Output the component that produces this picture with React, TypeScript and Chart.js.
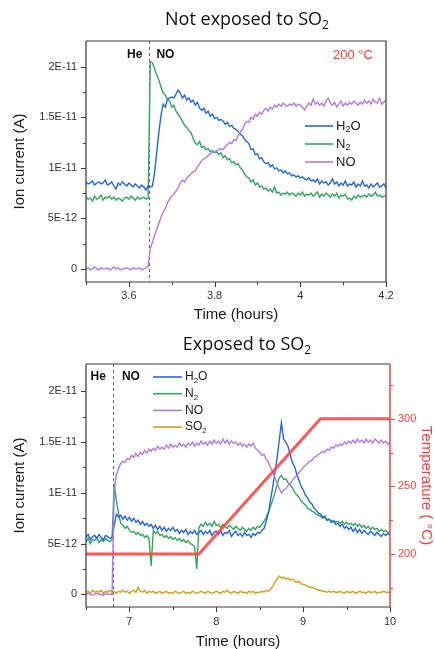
import React, { useEffect, useRef } from "react";
import { Chart, registerables } from "chart.js";

Chart.register(...registerables);

// ---------------- Data: top panel (not exposed to SO2) ----------------
const TOP_T0 = 3.5; // hours
const TOP_STEP = 0.005; // hours between samples
const TOP_SWITCH = 3.648; // He -> NO switch
// ion currents in units of 1E-12 A
const TOP_H2O = [
  8.6, 8.4, 8.5, 8.7, 8.3, 8.5, 8.6, 8.4, 8.5, 8.8,
  8.3, 8.4, 8.6, 8.2, 7.9, 8.5, 8.3, 8.6, 8.4, 8.2,
  8.5, 8.3, 8.1, 8.4, 8.2, 8.0, 8.3, 8.1, 7.8, 8.2,
  8.1, 8.2, 9.5, 11.5, 13.5, 15.2, 16.3, 16.0, 16.8, 16.9,
  17.0, 16.9, 17.3, 17.7, 17.4, 16.9, 17.2, 16.7, 16.9, 16.5,
  16.7, 16.2, 16.5, 15.9, 15.7, 15.9, 15.4, 15.6, 15.1, 15.3,
  14.9, 15.0, 14.7, 14.8, 14.6, 14.3, 14.5, 14.1, 14.2, 13.9,
  13.8, 13.6, 13.3, 13.2, 12.8, 12.6, 12.4, 11.8, 11.9, 11.3,
  11.4, 10.9, 11.0, 10.6, 10.4, 10.5, 10.1, 10.3, 9.9, 10.0,
  9.7, 9.8, 9.5, 9.7, 9.4, 9.5, 9.2, 9.3, 9.1, 9.2,
  9.0, 9.1, 8.9, 8.8, 9.0, 8.7, 8.8, 8.6, 8.9, 8.4,
  8.7, 8.5, 8.6, 8.3, 8.5, 8.9, 8.4, 8.6, 8.2, 8.5,
  8.3, 8.7, 8.2, 8.4, 8.3, 8.6, 8.1, 8.4, 8.2, 8.7,
  8.2, 8.3, 8.0, 8.4, 8.1, 8.3, 8.5, 8.1, 8.2, 8.4,
  8.0,
];
const TOP_N2 = [
  7.1, 6.9, 7.0, 6.7, 7.2, 6.9, 7.0, 7.3, 6.8, 7.1,
  7.0, 7.2, 6.9, 7.1, 6.8, 7.0, 6.9, 6.7, 7.0, 7.1,
  6.9, 7.2, 7.0, 6.8, 7.1, 6.9, 7.0, 7.1, 6.9, 7.0,
  20.5, 20.4, 19.8, 19.2, 18.7, 18.0, 17.4, 17.2, 16.8, 16.6,
  16.0, 16.2, 15.6, 15.3, 15.0, 14.6, 14.2, 14.0, 13.7, 13.5,
  12.9, 12.4, 12.3, 12.6, 12.0, 12.1, 11.8, 11.9, 11.6, 11.7,
  11.5, 11.6, 11.3, 11.5, 11.0, 11.2, 10.8, 10.9, 10.5, 10.6,
  10.3, 10.4, 10.0, 9.8, 9.4, 9.1, 9.0, 8.6, 8.8, 8.3,
  8.5, 8.1, 8.2, 7.9, 8.0, 7.7, 7.9, 7.6, 8.1, 7.5,
  7.6, 7.3, 7.5, 7.4, 7.6, 7.3, 7.5, 7.4, 7.2, 7.5,
  7.3, 7.6, 7.2, 7.4, 7.3, 7.5, 7.2, 7.4, 7.6, 7.1,
  7.4, 7.2, 7.5, 7.3, 7.1, 7.4, 7.2, 7.5, 7.0, 7.3,
  7.2, 7.4, 6.9, 7.0, 6.8, 7.2, 7.0, 7.3, 7.1, 7.2,
  7.3, 7.1, 7.4, 7.2, 7.3, 7.6, 7.2, 7.3, 7.1, 7.2,
  7.2,
];
const TOP_NO = [
  0.0, 0.1, -0.1, 0.0, 0.2, 0.0, -0.1, 0.1, 0.0, 0.0,
  0.1, -0.1, 0.0, 0.2, 0.0, 0.1, -0.1, 0.0, 0.0, 0.1,
  0.0, -0.1, 0.1, 0.0, 0.0, 0.1, -0.1, 0.0, 0.1, 0.3,
  2.0, 2.6, 3.3, 3.9, 4.5, 5.1, 5.6, 6.0, 6.5, 6.9,
  7.2, 7.4, 7.7, 8.0, 8.5, 8.8, 8.6, 9.0, 9.2, 9.4,
  9.6, 9.7, 10.1, 10.4, 10.7, 10.9, 11.0, 11.2, 11.4, 11.5,
  11.6, 11.7, 11.8, 11.9, 11.8, 12.1, 12.3, 12.5, 12.4, 12.8,
  12.7, 13.2, 13.5, 13.8, 14.3, 14.6, 14.5, 15.0, 14.8, 15.3,
  15.1, 15.5, 15.3, 15.7, 15.9, 15.6, 16.0, 15.8, 16.2, 16.0,
  16.3, 16.1, 16.4, 16.2, 16.1, 16.3, 16.2, 16.4, 16.1, 16.3,
  16.2, 16.0, 15.7, 16.1, 16.4, 16.2, 16.8, 16.3, 16.5, 16.2,
  16.4, 16.1, 16.6, 16.9, 16.4, 16.2, 16.5, 16.0, 16.3, 16.6,
  16.1, 16.4, 16.2, 16.5, 16.3, 16.6, 16.4, 16.2, 16.5, 16.3,
  16.7, 16.4, 16.6, 16.3, 16.8, 16.5, 16.4, 16.9, 16.3, 16.5,
  16.7,
];
const TOP_X_MAJOR = [3.6, 3.8, 4, 4.2];
const TOP_X_MINOR = [3.5, 3.7, 3.9, 4.1];

// ---------------- Data: bottom panel (exposed to SO2) ----------------
const BOT_T0 = 6.5;
const BOT_STEP = 0.025;
const BOT_SWITCH = 6.81;
const BOT_H2O = [
  5.6, 5.9, 5.4, 5.7, 5.8, 5.5, 5.9, 5.6, 5.4, 5.8,
  5.7, 5.5, 5.6, 6.8, 7.9, 7.6, 7.8, 7.4, 7.7, 7.3,
  7.6, 7.2, 7.5, 7.1, 7.3, 6.9, 7.2, 6.8, 7.0, 6.7,
  6.9, 6.5, 6.8, 6.4, 6.7, 6.3, 6.6, 6.2, 6.5, 6.3,
  6.6, 6.2, 6.4, 6.0, 6.3, 6.1, 6.4, 5.9, 6.2, 6.0,
  6.3, 5.9, 6.1, 6.3, 5.9, 6.2, 6.0, 6.3, 5.8, 6.1,
  6.2, 5.9, 6.3, 5.8, 6.1, 6.0, 6.3, 5.7, 6.0, 6.2,
  5.8, 6.0, 5.7, 6.1, 5.8, 5.9, 5.6, 6.0, 5.8, 6.1,
  6.0, 6.3, 6.5, 7.2, 8.0, 9.3, 10.6, 12.0, 13.4, 15.2,
  16.9, 15.3, 15.0, 14.6, 13.8, 13.0, 12.6, 11.9, 11.3, 10.7,
  10.3, 9.8, 9.5, 9.1, 8.9, 8.5, 8.3, 8.0, 7.9, 7.6,
  7.7, 7.3, 7.4, 7.1, 7.2, 6.9, 7.0, 6.7, 6.9, 6.5,
  6.7, 6.4, 6.6, 6.2, 6.5, 6.1, 6.4, 6.0, 6.3, 6.1,
  5.9, 6.2, 6.0, 5.8, 6.1, 5.9, 5.7, 6.0, 5.8, 6.0,
  5.8,
];
const BOT_N2 = [
  5.2, 5.5, 5.0, 5.4, 5.3, 5.6, 5.1, 5.4, 5.2, 5.5,
  5.3, 5.2, 5.4, 10.9, 9.2, 8.0, 7.0, 6.8, 6.5, 6.7,
  6.3, 6.1, 6.2, 5.9, 6.1, 5.8, 5.9, 5.6, 5.8, 5.5,
  2.8, 6.3, 6.0, 6.2, 5.8, 5.9, 5.6, 5.8, 5.5, 5.7,
  5.4, 5.6, 5.3, 5.5, 5.2, 5.4, 5.1, 5.3, 5.0, 4.9,
  4.7, 2.5, 6.6, 6.9, 6.7, 7.1, 6.8, 7.0, 6.7, 7.2,
  6.8, 6.9, 6.6, 6.9, 6.7, 6.5, 6.8, 6.6, 6.4, 6.7,
  6.5, 6.3, 6.6, 6.4, 6.2, 6.5, 6.3, 6.6, 6.4, 6.7,
  6.6, 6.9, 7.2, 7.6, 8.1, 8.7, 9.3, 10.0, 10.8, 11.5,
  11.7, 11.3, 11.4, 11.0, 10.8, 10.5, 10.1, 9.8, 9.6, 9.2,
  9.0, 8.8, 8.5, 8.4, 8.2, 8.1, 7.9, 7.8, 7.7, 7.5,
  7.6, 7.3, 7.4, 7.2, 7.3, 7.1, 7.2, 7.0, 7.2, 6.9,
  7.1, 6.9, 7.0, 6.8, 7.0, 6.7, 6.9, 6.6, 6.8, 6.5,
  6.7, 6.4, 6.6, 6.4, 6.5, 6.2, 6.4, 6.2, 6.3, 6.1,
  6.2,
];
const BOT_NO = [
  0.0, 0.1, 0.0, -0.1, 0.0, 0.1, 0.0, 0.0, -0.1, 0.1,
  0.0, 0.0, 0.0, 10.3, 11.8, 12.4, 12.9, 13.1, 13.0, 13.4,
  13.3, 13.7, 13.5, 13.9, 13.6, 14.0, 13.8, 14.2, 13.9, 14.3,
  14.1, 14.4, 14.2, 14.6, 14.3, 14.5, 14.3, 14.7, 14.4, 14.8,
  14.5, 14.7, 14.5, 14.9, 14.6, 14.8, 14.5, 14.9, 14.7, 15.0,
  14.6, 14.9, 14.7, 15.1, 14.8, 15.0, 14.7, 15.1, 14.8, 15.2,
  14.9, 15.1, 14.8, 15.3, 14.9, 15.2, 14.8, 15.1, 14.9, 15.0,
  14.7, 14.9, 14.6, 14.8, 14.5, 14.8, 14.6, 14.9, 14.4, 14.2,
  14.0, 13.7, 13.8, 13.3, 13.0, 12.5, 12.1, 11.5, 11.0, 10.4,
  10.0, 10.3, 10.4, 10.7, 10.9, 11.2, 11.5, 11.7, 12.0, 12.2,
  12.5, 12.7, 12.9, 13.1, 13.2, 13.5, 13.6, 13.8, 13.9, 14.1,
  14.0, 14.3, 14.2, 14.5, 14.4, 14.7, 14.6, 14.8, 14.7, 15.0,
  14.8, 15.1, 14.9, 15.2, 14.9, 15.3, 15.0, 15.2, 14.9, 15.3,
  15.0, 15.2, 14.9, 15.3, 15.1, 14.9, 15.2, 14.9, 15.1, 14.8,
  15.0,
];
const BOT_SO2 = [
  0.2, 0.3, 0.1, 0.4, 0.2, 0.3, 0.2, 0.4, 0.1, 0.3,
  0.2, 0.4, 0.2, 0.3, 0.1, 0.3, 0.2, 0.4, 0.2, 0.3,
  0.1, 0.3, 0.4, 0.2, 0.7, 0.3, 0.2, 0.4, 0.1, 0.3,
  0.2, 0.3, 0.1, 0.2, 0.3, 0.1, 0.2, 0.3, 0.1, 0.2,
  0.1, 0.3, 0.2, 0.1, 0.2, 0.3, 0.1, 0.2, 0.1, 0.3,
  0.2, 0.1, 0.2, 0.3, 0.2, 0.1, 0.3, 0.2, 0.1, 0.2,
  0.3, 0.2, 0.1, 0.3, 0.2, 0.4, 0.2, 0.1, 0.3, 0.2,
  0.1, 0.3, 0.2, 0.2, 0.1, 0.3, 0.2, 0.3, 0.1, 0.2,
  0.2, 0.3, 0.2, 0.4, 0.3, 0.5, 0.8, 1.2, 1.5, 1.8,
  1.6, 1.7, 1.5, 1.6, 1.4, 1.5, 1.3, 1.2, 1.3, 1.0,
  1.0, 0.9, 0.8, 0.7, 0.7, 0.6, 0.5, 0.4, 0.4, 0.3,
  0.3, 0.2, 0.3, 0.2, 0.3, 0.2, 0.2, 0.3, 0.2, 0.1,
  0.3, 0.2, 0.2, 0.3, 0.1, 0.2, 0.3, 0.2, 0.2, 0.1,
  0.3, 0.2, 0.2, 0.3, 0.1, 0.2, 0.2, 0.3, 0.2, 0.2,
  0.2,
];
const TEMP_TIME = [6.5, 7.8, 9.2, 10];
const TEMP_VALUES = [200, 200, 300, 300];
const BOT_X_MAJOR = [7, 8, 9, 10];
const BOT_X_MINOR = [6.5, 7.5, 8.5, 9.5];
const TEMP_MAJOR = [200, 250, 300];
const TEMP_MINOR = [175, 225, 275, 325];

// ---------------- Shared y ticks ----------------
const Y_MAJOR = [0, 5, 10, 15, 20];
const Y_LABELS = ["0", "5E-12", "1E-11", "1.5E-11", "2E-11"];
const Y_MINOR = [2.5, 7.5, 12.5, 17.5];

// ---------------- Styles ----------------
const FONT = '"Liberation Sans", Arial, sans-serif';
const TITLE_FONT = '"Open Sans", "Noto Sans", sans-serif';
const C_H2O = "#2566e0";
const C_N2 = "#2fa85e";
const C_NO = "#b27ae8";
const C_SO2 = "#d4a012";
const C_TEMP = "rgba(255,70,70,0.9)";
const C_RED = "#ff3b3b";
const C_AXIS = "#3a3a3a";

function toPoints(t0: number, step: number, vals: number[]) {
  return vals.map((v, i) => ({ x: +(t0 + i * step).toFixed(4), y: v }));
}

function drawRich(
  ctx: CanvasRenderingContext2D,
  text: string,
  x: number,
  y: number,
  size: number,
  weight: string,
  family: string,
  color: string,
  align: "left" | "center" | "right"
) {
  const parts = text.split("_");
  const segs: { t: string; sub: boolean; w: number }[] = [];
  parts.forEach((p, i) => {
    if (i === 0) {
      if (p) segs.push({ t: p, sub: false, w: 0 });
    } else {
      segs.push({ t: p[0], sub: true, w: 0 });
      if (p.length > 1) segs.push({ t: p.slice(1), sub: false, w: 0 });
    }
  });
  const subSize = Math.round(size * 0.68);
  const fontOf = (s: { sub: boolean }) => `${weight} ${s.sub ? subSize : size}px ${family}`;
  let total = 0;
  for (const s of segs) {
    ctx.font = fontOf(s);
    s.w = ctx.measureText(s.t).width;
    total += s.w;
  }
  let cx = align === "center" ? x - total / 2 : align === "right" ? x - total : x;
  ctx.fillStyle = color;
  ctx.textAlign = "left";
  ctx.textBaseline = "middle";
  for (const s of segs) {
    ctx.font = fontOf(s);
    ctx.fillText(s.t, cx, s.sub ? y + size * 0.3 : y);
    cx += s.w;
  }
}

type Decor = {
  title: string;
  titleX: number;
  titleY: number;
  switchT: number;
  gasY: number;
  heGap: number;
  noGap: number;
  legend: { label: string; color: string }[];
  legendX: number;
  legendY: number;
  legendGap: number;
  legendLine: number;
  legendSize: number;
  note?: { text: string; dxRight: number; dy: number };
  xMajor: number[];
  xMinor: number[];
  y2?: boolean;
};

function decorPlugin(d: Decor) {
  return {
    id: "decor",
    beforeDatasetsDraw(chart: any) {
      const { ctx, chartArea, scales } = chart;
      const xs = Math.round(scales.x.getPixelForValue(d.switchT)) + 0.5;
      ctx.save();
      ctx.strokeStyle = "#666";
      ctx.lineWidth = 1;
      ctx.setLineDash([3, 3]);
      ctx.beginPath();
      ctx.moveTo(xs, chartArea.top);
      ctx.lineTo(xs, chartArea.bottom);
      ctx.stroke();
      ctx.restore();
    },
    afterDraw(chart: any) {
      const { ctx, chartArea, scales } = chart;
      const { left, right, top, bottom } = chartArea;
      ctx.save();
      // frame
      ctx.lineWidth = 1.2;
      ctx.strokeStyle = C_AXIS;
      ctx.beginPath();
      ctx.moveTo(left, top);
      ctx.lineTo(left, bottom);
      ctx.lineTo(right, bottom);
      ctx.moveTo(left, top);
      ctx.lineTo(right, top);
      if (!d.y2) ctx.lineTo(right, bottom);
      ctx.stroke();
      // ticks
      const tick = (x1: number, y1: number, x2: number, y2: number) => {
        ctx.beginPath();
        ctx.moveTo(x1, y1);
        ctx.lineTo(x2, y2);
        ctx.stroke();
      };
      ctx.lineWidth = 1;
      d.xMajor.forEach((v) => {
        const p = Math.round(scales.x.getPixelForValue(v)) + 0.5;
        tick(p, bottom, p, bottom + 5);
      });
      d.xMinor.forEach((v) => {
        const p = Math.round(scales.x.getPixelForValue(v)) + 0.5;
        tick(p, bottom, p, bottom + 3);
      });
      Y_MAJOR.forEach((v) => {
        const p = Math.round(scales.y.getPixelForValue(v)) + 0.5;
        tick(left, p, left - 5, p);
      });
      Y_MINOR.forEach((v) => {
        const p = Math.round(scales.y.getPixelForValue(v)) + 0.5;
        tick(left, p, left - 3, p);
      });
      if (d.y2) {
        ctx.strokeStyle = C_RED;
        ctx.lineWidth = 1.5;
        tick(right, top, right, bottom);
        ctx.lineWidth = 1;
        TEMP_MAJOR.forEach((v) => {
          const p = Math.round(scales.y2.getPixelForValue(v)) + 0.5;
          tick(right, p, right + 5, p);
        });
        TEMP_MINOR.forEach((v) => {
          const p = Math.round(scales.y2.getPixelForValue(v)) + 0.5;
          tick(right, p, right + 3, p);
        });
      }
      // He / NO labels around the switch line
      const xs = scales.x.getPixelForValue(d.switchT);
      drawRich(ctx, "He", xs - d.heGap, top + d.gasY, 12, "bold", FONT, "#111", "right");
      drawRich(ctx, "NO", xs + d.noGap, top + d.gasY, 12, "bold", FONT, "#111", "left");
      // legend
      d.legend.forEach((item, i) => {
        const y = top + d.legendY + i * d.legendGap;
        ctx.strokeStyle = item.color;
        ctx.lineWidth = 1.6;
        ctx.beginPath();
        ctx.moveTo(left + d.legendX, y);
        ctx.lineTo(left + d.legendX + d.legendLine, y);
        ctx.stroke();
        drawRich(ctx, item.label, left + d.legendX + d.legendLine + 3, y, d.legendSize, "normal", FONT, "#1a1a1a", "left");
      });
      if (d.note) {
        drawRich(ctx, d.note.text, right - d.note.dxRight, top + d.note.dy, 13, "normal", FONT, C_RED, "center");
      }
      drawRich(ctx, d.title, d.titleX, d.titleY, 18, "normal", TITLE_FONT, "#111", "center");
      ctx.restore();
    },
  };
}

function lineDs(label: string, data: { x: number; y: number }[], color: string, width: number, axis = "y") {
  return {
    label,
    data,
    borderColor: color,
    backgroundColor: color,
    borderWidth: width,
    pointRadius: 0,
    tension: 0,
    fill: false,
    yAxisID: axis,
  };
}

function baseX(min: number, max: number, ticks: number[], height: number, pad: number, titlePad: number) {
  return {
    type: "linear",
    min,
    max,
    afterBuildTicks: (s: any) => {
      s.ticks = ticks.map((v) => ({ value: v }));
    },
    afterFit: (s: any) => {
      s.height = height;
    },
    grid: { display: false, drawTicks: false },
    border: { display: false },
    ticks: {
      padding: pad,
      autoSkip: false,
      maxRotation: 0,
      color: "#333",
      font: { family: FONT, size: 11 },
      callback: (v: number) => String(v),
    },
    title: {
      display: true,
      text: "Time (hours)",
      color: "#1a1a1a",
      font: { family: FONT, size: 15 },
      padding: { top: 0, bottom: titlePad },
    },
  };
}

function baseY(min: number, max: number) {
  return {
    type: "linear",
    position: "left",
    min,
    max,
    afterBuildTicks: (s: any) => {
      s.ticks = Y_MAJOR.map((v) => ({ value: v }));
    },
    afterFit: (s: any) => {
      s.width = 86;
    },
    grid: { display: false, drawTicks: false },
    border: { display: false },
    ticks: {
      padding: 9,
      color: "#333",
      font: { family: FONT, size: 11 },
      callback: (_v: number, i: number) => Y_LABELS[i],
    },
    title: {
      display: true,
      text: "Ion current (A)",
      color: "#1a1a1a",
      font: { family: FONT, size: 15 },
      padding: { top: 11, bottom: 0 },
    },
  };
}

const commonOptions = {
  animation: false,
  responsive: false,
  maintainAspectRatio: false,
  events: [],
  plugins: { legend: { display: false }, title: { display: false }, tooltip: { enabled: false } },
};

function topConfig(): any {
  return {
    type: "line",
    data: {
      datasets: [
        lineDs("NO", toPoints(TOP_T0, TOP_STEP, TOP_NO), C_NO, 1.4),
        lineDs("H2O", toPoints(TOP_T0, TOP_STEP, TOP_H2O), C_H2O, 1.4),
        lineDs("N2", toPoints(TOP_T0, TOP_STEP, TOP_N2), C_N2, 1.4),
      ],
    },
    options: {
      ...commonOptions,
      layout: { padding: { left: 0, top: 41, right: 49, bottom: 0 } },
      scales: {
        x: baseX(3.5, 4.2, TOP_X_MAJOR, 48, 7, 6),
        y: baseY(-1.3, 22.55),
      },
    },
    plugins: [
      decorPlugin({
        title: "Not exposed to SO_2",
        titleX: 247,
        titleY: 20,
        switchT: TOP_SWITCH,
        gasY: 14,
        heGap: 7,
        noGap: 7,
        legend: [
          { label: "H_2O", color: C_H2O },
          { label: "N_2", color: C_N2 },
          { label: "NO", color: C_NO },
        ],
        legendX: 219,
        legendY: 85,
        legendGap: 18,
        legendLine: 28,
        legendSize: 13,
        note: { text: "200 °C", dxRight: 33, dy: 14 },
        xMajor: TOP_X_MAJOR,
        xMinor: TOP_X_MINOR,
      }),
    ],
  };
}

function bottomConfig(): any {
  return {
    type: "line",
    data: {
      datasets: [
        lineDs(
          "Temperature",
          TEMP_TIME.map((t, i) => ({ x: t, y: TEMP_VALUES[i] })),
          C_TEMP,
          3,
          "y2"
        ),
        lineDs("NO", toPoints(BOT_T0, BOT_STEP, BOT_NO), C_NO, 1.4),
        lineDs("H2O", toPoints(BOT_T0, BOT_STEP, BOT_H2O), C_H2O, 1.4),
        lineDs("N2", toPoints(BOT_T0, BOT_STEP, BOT_N2), C_N2, 1.4),
        lineDs("SO2", toPoints(BOT_T0, BOT_STEP, BOT_SO2), C_SO2, 1.4),
      ],
    },
    options: {
      ...commonOptions,
      layout: { padding: { left: 0, top: 34, right: 0, bottom: 0 } },
      scales: {
        x: baseX(6.5, 10, BOT_X_MAJOR, 44, 8, 0),
        y: baseY(-1.25, 22.7),
        y2: {
          type: "linear",
          position: "right",
          min: 160.9,
          max: 340.4,
          afterBuildTicks: (s: any) => {
            s.ticks = TEMP_MAJOR.map((v) => ({ value: v }));
          },
          afterFit: (s: any) => {
            s.width = 45;
          },
          grid: { display: false, drawTicks: false },
          border: { display: false },
          ticks: {
            padding: 8,
            color: C_RED,
            font: { family: FONT, size: 11 },
            callback: (v: number) => String(v),
          },
          title: {
            display: true,
            text: "Temperature ( °C)",
            color: C_RED,
            font: { family: FONT, size: 15 },
            padding: { top: 0, bottom: 0 },
          },
        },
      },
    },
    plugins: [
      decorPlugin({
        title: "Exposed to SO_2",
        titleX: 247,
        titleY: 15,
        switchT: BOT_SWITCH,
        gasY: 13,
        heGap: 7,
        noGap: 9,
        legend: [
          { label: "H_2O", color: C_H2O },
          { label: "N_2", color: C_N2 },
          { label: "NO", color: C_NO },
          { label: "SO_2", color: C_SO2 },
        ],
        legendX: 67,
        legendY: 13,
        legendGap: 16.7,
        legendLine: 29,
        legendSize: 12,
        xMajor: BOT_X_MAJOR,
        xMinor: BOT_X_MINOR,
        y2: true,
      }),
    ],
  };
}

function ChartCanvas({ make, top, height }: { make: () => any; top: number; height: number }) {
  const ref = useRef<HTMLCanvasElement | null>(null);
  useEffect(() => {
    if (!ref.current) return;
    const chart = new Chart(ref.current, make());
    return () => chart.destroy();
  }, [make]);
  return (
    <div style={{ position: "absolute", left: 0, top, width: 435, height }}>
      <canvas ref={ref} width={435} height={height} style={{ display: "block", width: 435, height }} />
    </div>
  );
}

export default function App() {
  return (
    <div style={{ position: "absolute", left: 0, top: 0, width: 435, height: 649, background: "#fff", overflow: "hidden" }}>
      <ChartCanvas make={topConfig} top={0} height={330} />
      <ChartCanvas make={bottomConfig} top={330} height={321} />
    </div>
  );
}
